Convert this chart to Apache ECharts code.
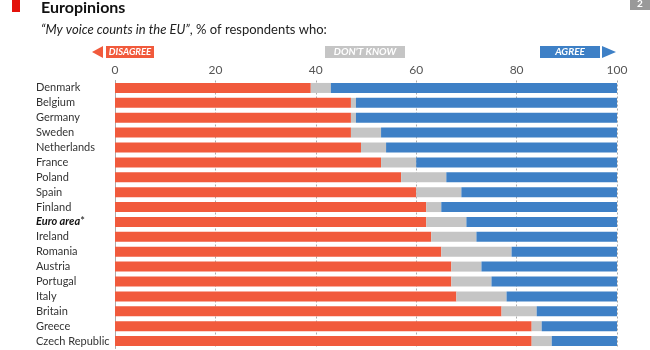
<!DOCTYPE html>
<html><head><meta charset="utf-8">
<script src="https://cdn.jsdelivr.net/npm/echarts@6/dist/echarts.min.js"></script>
<style>html,body{margin:0;padding:0;background:#fff}#c{width:650px;height:350px}</style>
</head><body><div id="c"></div>
<script>
var countries = ["Denmark","Belgium","Germany","Sweden","Netherlands","France","Poland","Spain","Finland","Euro area*","Ireland","Romania","Austria","Portugal","Italy","Britain","Greece","Czech Republic"];
var disagree = [39,47,47,47,49,53,57,60,62,62,63,65,67,67,68,77,83,83];
var dontKnow = [4,1,1,6,5,7,9,9,3,8,9,14,6,8,10,7,2,4];
var agree = [57,52,52,47,46,40,34,31,35,30,28,21,27,25,22,16,15,13];
var xTicks = [0,20,40,60,80,100];

var FONT = "Lato, sans-serif";
var chart = echarts.init(document.getElementById('c'));
var RED = '#f15a3c', GREY = '#c5c5c5', BLUE = '#3e80c6';
chart.setOption({
  animation: false,
  title: [
    {text: 'Europinions', left: 36, top: -5, textStyle: {fontFamily: FONT, fontSize: 16, fontWeight: 'bold', color: '#111'}},
    {text: '{i|\u201cMy voice counts in the EU\u201d}{n|, % of respondents who:}', left: 36, top: 18,
     textStyle: {fontWeight: 'normal', rich: {
       i: {fontFamily: FONT, fontSize: 13, fontStyle: 'italic', fontWeight: 'normal', color: '#222'},
       n: {fontFamily: FONT, fontSize: 13, fontWeight: 'normal', color: '#222'}}}}
  ],
  graphic: [
    {type: 'rect', shape: {x: 12, y: 0, width: 8, height: 12}, style: {fill: '#e3120b'}},
    {type: 'rect', shape: {x: 630, y: 0, width: 20, height: 10}, style: {fill: '#999'}},
    {type: 'text', style: {x: 640, y: 4, text: '2', fill: '#fff', font: 'bold 10px ' + FONT, align: 'center', verticalAlign: 'middle'}},
    {type: 'polygon', shape: {points: [[92, 52], [103, 46], [103, 58]]}, style: {fill: RED}},
    {type: 'rect', shape: {x: 106, y: 46, width: 48, height: 12}, style: {fill: RED}},
    {type: 'text', style: {x: 130, y: 52, text: 'DISAGREE', fill: '#fff', font: 'italic bold 9.5px ' + FONT, align: 'center', verticalAlign: 'middle'}},
    {type: 'rect', shape: {x: 325, y: 46, width: 80, height: 12}, style: {fill: GREY}},
    {type: 'text', style: {x: 365, y: 52, text: 'DON\u2019T KNOW', fill: '#fff', font: 'italic bold 10px ' + FONT, align: 'center', verticalAlign: 'middle'}},
    {type: 'rect', shape: {x: 540, y: 46, width: 60, height: 12}, style: {fill: BLUE}},
    {type: 'text', style: {x: 570, y: 52, text: 'AGREE', fill: '#fff', font: 'italic bold 10px ' + FONT, align: 'center', verticalAlign: 'middle'}},
    {type: 'polygon', shape: {points: [[602, 46], [602, 58], [616, 52]]}, style: {fill: BLUE}}
  ],
  grid: {left: 115, right: 33, top: 80.5, bottom: 1.5, containLabel: false},
  xAxis: {
    type: 'value', position: 'top', min: 0, max: 100, interval: 20,
    axisLine: {show: false}, axisTick: {show: false},
    axisLabel: {color: '#555', fontFamily: FONT, fontSize: 12, margin: 4,
      formatter: function (v) { return xTicks.indexOf(v) >= 0 ? String(v) : ''; }},
    splitLine: {show: true, lineStyle: {color: '#aaa', type: [2, 2], width: 1}}
  },
  yAxis: {
    type: 'category', data: countries, inverse: true,
    axisLine: {show: true, lineStyle: {color: '#aaa'}}, axisTick: {show: false},
    axisLabel: {interval: 0, align: 'left', margin: 79, color: '#333', fontFamily: FONT, fontSize: 11,
      formatter: function (v) { return v === 'Euro area*' ? '{b|Euro area}{n|*}' : v; },
      rich: {b: {fontStyle: 'italic', fontWeight: 'bold', fontFamily: FONT, fontSize: 11, color: '#111'},
             n: {fontFamily: FONT, fontSize: 11, color: '#111'}}}
  },
  series: [
    {name: 'Disagree', type: 'bar', stack: 's', data: disagree, barWidth: 10, itemStyle: {color: RED}},
    {name: "Don't know", type: 'bar', stack: 's', data: dontKnow, barWidth: 10, itemStyle: {color: GREY}},
    {name: 'Agree', type: 'bar', stack: 's', data: agree, barWidth: 10, itemStyle: {color: BLUE}}
  ]
});
</script></body></html>
